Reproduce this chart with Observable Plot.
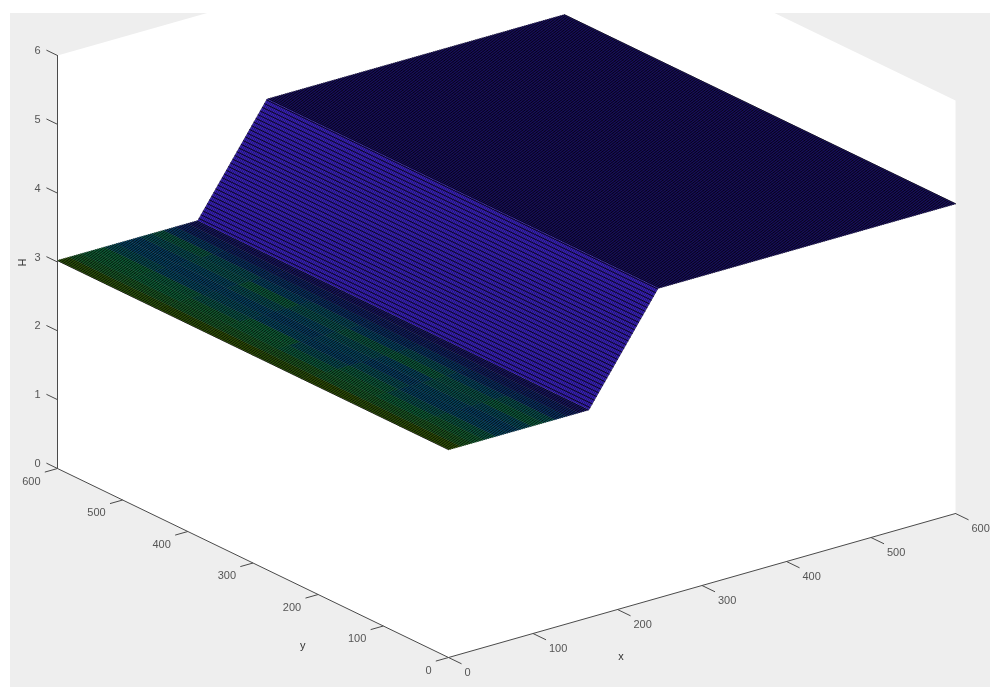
<!DOCTYPE html>
<html><head><meta charset="utf-8">
<script src="https://cdn.jsdelivr.net/npm/d3@7"></script>
<script src="https://cdn.jsdelivr.net/npm/@observablehq/plot@0.6"></script>
<style>html,body{margin:0;padding:0;background:#fff}svg{display:block}</style>
</head><body><div id="chart"></div>
<script>
// Axis ticks
const xTicks = [0,100,200,300,400,500,600];
const yTicks = [0,100,200,300,400,500,600];
const hTicks = [0,1,2,3,4,5,6];
// Surface profile H(x)
const profileX = [0,166,248,600];
const profileH = [3.02,3.02,4.5,4.5];
// Mesh spacing of the surface
const meshStep = 2.5;
// Colour level of the low plateau: rows = x bands, columns = y bands (read by eye)
const bandX = [0,14,28,42,56,70,84,98,112,126,140,154,166];
const bandY = [0,75,150,225,300,375,450,525,600];
const levels = [
 [.86,.84,.86,.83,.86,.84,.82,.83],
 [.72,.70,.68,.72,.70,.68,.70,.68],
 [.64,.60,.64,.58,.62,.64,.60,.62],
 [.56,.52,.58,.50,.60,.54,.58,.60],
 [.46,.44,.50,.42,.46,.48,.46,.50],
 [.42,.46,.40,.46,.40,.44,.42,.44],
 [.48,.52,.46,.50,.46,.50,.46,.42],
 [.58,.54,.58,.56,.52,.58,.52,.50],
 [.52,.46,.50,.44,.48,.44,.50,.56],
 [.32,.30,.34,.30,.30,.32,.32,.38],
 [.18,.16,.18,.16,.16,.18,.18,.20],
 [.06,.06,.06,.08,.06,.06,.06,.08]
];
const slopeLevel = 0, topLevel = -.2;
const levelDomain = [-.2,0,.25,.45,.6,.85,1];
const levelRange = ["#301fb4","#3a22bc","#1a50c0","#1085c0","#1db86c","#5a9a10","#7a9400"];

// View of the 3-D box (MATLAB-like orthographic projection)
const view = {ox:448, oy:657, xx:507/600, xy:144/600, yx:391/600, yy:189/600, h:413/6};
const px = (x,y,h) => view.ox + x*view.xx - y*view.yx;
const py = (x,y,h) => view.oy - x*view.xy - y*view.yy - h*view.h;
const Hat = x => {
  for (let i=1;i<profileX.length;i++) if (x<=profileX[i]) {
    const t=(x-profileX[i-1])/(profileX[i]-profileX[i-1]);
    return profileH[i-1]+t*(profileH[i]-profileH[i-1]);
  }
  return profileH[profileH.length-1];
};

// Patches
const patches = [];
let pid = 0;
const addPatch = (x0,x1,y0,y1,level) => {
  const id = pid++;
  for (const [x,y] of [[x0,y0],[x1,y0],[x1,y1],[x0,y1]]) patches.push({id,level,x,y,h:Hat(x)});
};
bandX.slice(0,-1).forEach((bx,i)=>bandY.slice(0,-1).forEach((by,j)=>
  addPatch(bx,bandX[i+1],by,bandY[j+1],levels[i][j])));
addPatch(profileX[1],profileX[2],0,600,slopeLevel);
addPatch(profileX[2],profileX[3],0,600,topLevel);

// Mesh
const meshGrid = d3.range(0,600+meshStep/2,meshStep);
const meshX = [], meshY = [];
meshGrid.forEach((x,i)=>{ for (const y of [0,600]) meshX.push({id:i,x,y,h:Hat(x)}); });
meshGrid.forEach((y,i)=>{ for (const x of profileX) meshY.push({id:i,x,y,h:Hat(x)}); });

// Box
const box = [[0,600,6],[0,600,0],[0,0,0],[600,0,0],[600,0,6],[600,600,6]].map(([x,y,h])=>({x,y,h}));
const axisLines = [[0,600,6],[0,600,0],[0,0,0],[600,0,0]].map(([x,y,h])=>({x,y,h}));

const X = d=>px(d.x,d.y,d.h), Y = d=>py(d.x,d.y,d.h);
const tickColor = "#4a4a4a", textColor = "#555";
const font = {fontFamily:"Liberation Sans", fontSize:11};

const plot = Plot.plot({
  width:990, height:687, margin:0,
  x:{domain:[0,990],range:[0,990],axis:null},
  y:{domain:[0,687],range:[0,687],axis:null},
  color:{type:"linear",domain:levelDomain,range:levelRange,interpolate:"rgb"},
  style:{background:"#fff",filter:"blur(0.4px)"},
  marks:[
    Plot.rect([{}],{x1:()=>10,x2:()=>990,y1:()=>13,y2:()=>687,fill:"#eeeeee"}),
    Plot.line(box,{x:X,y:Y,fill:"#fff",stroke:"none"}),
    Plot.rect([{}],{x1:()=>0,x2:()=>990,y1:()=>0,y2:()=>13,fill:"#fff"}),
    Plot.line(patches,{x:X,y:Y,z:"id",fill:"level",stroke:"level",strokeWidth:0.4}),
    Plot.line(meshX,{x:X,y:Y,z:"id",stroke:"#000",strokeWidth:0.8}),
    Plot.line(meshY,{x:X,y:Y,z:"id",stroke:"#000",strokeWidth:0.4}),
    Plot.line(axisLines,{x:X,y:Y,stroke:tickColor,strokeWidth:1}),
    // tick marks
    Plot.link(hTicks,{x1:h=>px(0,600,h),y1:h=>py(0,600,h),x2:h=>px(0,617,h),y2:h=>py(0,617,h),stroke:tickColor,strokeWidth:1}),
    Plot.link(yTicks,{x1:y=>px(0,y,0),y1:y=>py(0,y,0),x2:y=>px(-15,y,0),y2:y=>py(-15,y,0),stroke:tickColor,strokeWidth:1}),
    Plot.link(xTicks,{x1:x=>px(x,0,0),y1:x=>py(x,0,0),x2:x=>px(x,-20,0),y2:x=>py(x,-20,0),stroke:tickColor,strokeWidth:1}),
    // tick labels
    Plot.text(hTicks,{x:h=>px(0,600,h),y:h=>py(0,600,h),text:d=>String(d),textAnchor:"end",dx:-17,dy:-5,fill:textColor,...font}),
    Plot.text(yTicks,{x:y=>px(0,y,0),y:y=>py(0,y,0),text:d=>String(d),textAnchor:"end",dx:-17,dy:12.5,fill:textColor,...font}),
    Plot.text(xTicks,{x:x=>px(x,0,0),y:x=>py(x,0,0),text:d=>String(d),textAnchor:"start",dx:16,dy:14.5,fill:textColor,...font}),
    // axis titles
    Plot.text(["x"],{x:()=>px(131,-95,0),y:()=>py(131,-95,0),text:d=>d,fill:"#333",...font}),
    Plot.text(["y"],{x:()=>px(-90,107,0),y:()=>py(-90,107,0),text:d=>d,fill:"#333",...font}),
    Plot.text(["H"],{x:()=>px(0,653,2.75),y:()=>py(0,653,2.75),text:d=>d,rotate:-90,fill:"#333",...font})
  ]
});
document.getElementById("chart").append(plot);
</script></body></html>
